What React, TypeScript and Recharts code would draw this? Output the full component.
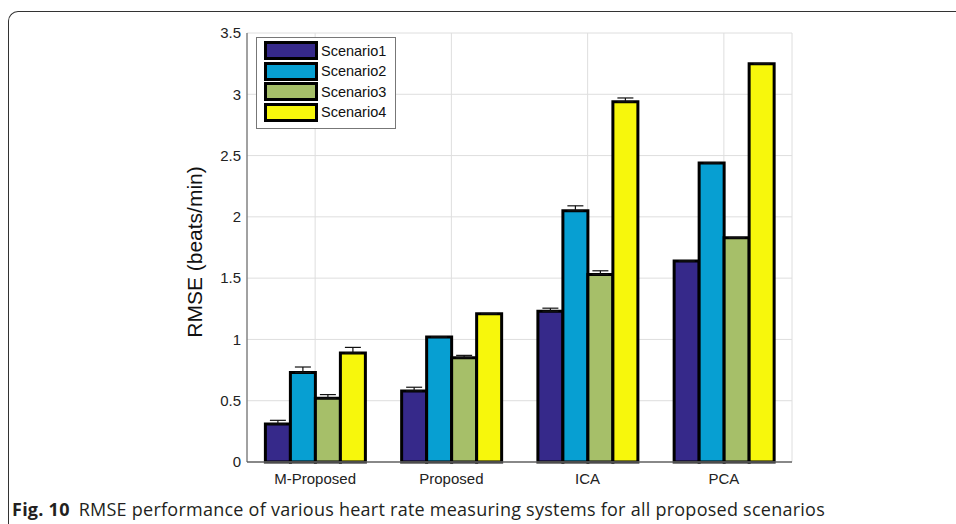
import React from 'react';
import { BarChart, Bar, XAxis, YAxis, CartesianGrid, Legend, ErrorBar } from 'recharts';

const categories = ['M-Proposed', 'Proposed', 'ICA', 'PCA'];
const scenario1 = [0.31, 0.58, 1.23, 1.64];
const scenario2 = [0.73, 1.02, 2.05, 2.44];
const scenario3 = [0.52, 0.85, 1.53, 1.83];
const scenario4 = [0.89, 1.21, 2.94, 3.25];
const error1 = [0.03, 0.03, 0.025, 0];
const error2 = [0.045, 0, 0.04, 0];
const error3 = [0.03, 0.02, 0.03, 0];
const error4 = [0.045, 0, 0.03, 0];
const yTicks = [0, 0.5, 1, 1.5, 2, 2.5, 3, 3.5];

const seriesNames = ['Scenario1', 'Scenario2', 'Scenario3', 'Scenario4'];
const colors = ['#36298a', '#079fd2', '#a6bf69', '#f7f70c'];

const data = categories.map((name, i) => ({
  name,
  s1: scenario1[i],
  s2: scenario2[i],
  s3: scenario3[i],
  s4: scenario4[i],
  e1: [0, error1[i]],
  e2: [0, error2[i]],
  e3: [0, error3[i]],
  e4: [0, error4[i]],
}));

const axisColor = '#555';
const font = 'Arial, "Liberation Sans", sans-serif';

const LegendBox = (props: any) => {
  const payload = props.payload || [];
  return (
    <div
      style={{
        border: '1px solid #777',
        background: '#fff',
        padding: '3px 0 6px 7px',
        fontFamily: font,
        fontSize: 14.5,
        color: '#111',
      }}
    >
      {payload.map((entry: any, i: number) => (
        <div key={`leg-${i}`} style={{ display: 'flex', alignItems: 'center', height: 19, marginBottom: i < payload.length - 1 ? 1.5 : 0 }}>
          <div style={{ width: 48, height: 13, border: '3px solid #000', background: entry.color }} />
          <span style={{ marginLeft: 3 }}>{entry.value}</span>
        </div>
      ))}
    </div>
  );
};

const blank = () => '';

export default function App() {
  const keys = ['s1', 's2', 's3', 's4'];
  const errKeys = ['e1', 'e2', 'e3', 'e4'];
  return (
    <div style={{ position: 'absolute', left: 0, top: 0, width: 956, height: 524, background: '#fff', overflow: 'hidden' }}>
      <div
        style={{
          position: 'absolute',
          left: 8,
          top: 11,
          width: 1100,
          height: 700,
          borderTop: '1.5px solid #333',
          borderLeft: '1.5px solid #333',
          borderTopLeftRadius: 10,
        }}
      />
      <div style={{ position: 'absolute', left: 0, top: 0 }}>
        <BarChart
          width={956}
          height={500}
          data={data}
          margin={{ top: 33, right: 164, bottom: 8, left: 187 }}
          barGap={0}
          barCategoryGap="13.5%"
        >
          <CartesianGrid xAxisId="x" yAxisId="y" stroke="#dedede" strokeWidth={1} />
          <XAxis
            xAxisId="x"
            dataKey="name"
            height={30}
            tickSize={0}
            tickMargin={11}
            axisLine={{ stroke: '#666', strokeWidth: 1.5 }}
            tick={{ fill: '#222', fontSize: 15, fontFamily: font }}
          />
          <XAxis
            xAxisId="top"
            dataKey="name"
            orientation="top"
            mirror
            height={0}
            tickSize={5}
            tickFormatter={blank}
            axisLine={{ stroke: axisColor }}
            tickLine={{ stroke: axisColor }}
          />
          <YAxis
            yAxisId="yin"
            mirror
            width={0}
            domain={[0, 3.5]}
            ticks={yTicks}
            tickSize={5}
            tickFormatter={blank}
            axisLine={false}
            tickLine={{ stroke: axisColor }}
          />
          <YAxis
            yAxisId="y"
            width={60}
            domain={[0, 3.5]}
            ticks={yTicks}
            tickSize={0}
            tickMargin={6}
            axisLine={{ stroke: axisColor }}
            tick={{ fill: '#222', fontSize: 15, fontFamily: font }}
          />
          <YAxis
            yAxisId="yr"
            orientation="right"
            mirror
            width={0}
            domain={[0, 3.5]}
            ticks={yTicks}
            tickSize={5}
            tickFormatter={blank}
            axisLine={{ stroke: axisColor }}
            tickLine={{ stroke: axisColor }}
          />
          <Legend
            layout="vertical"
            align="center"
            verticalAlign="middle"
            content={<LegendBox />}
            wrapperStyle={{ left: 256, top: 37, width: 140 }}
          />
          {keys.map((k, i) => (
            <Bar
              key={k}
              xAxisId="x"
              yAxisId="y"
              dataKey={k}
              name={seriesNames[i]}
              fill={colors[i]}
              stroke="#000"
              strokeWidth={3}
              isAnimationActive={false}
            >
              <ErrorBar dataKey={errKeys[i]} width={8} stroke="#111" strokeWidth={1.2} isAnimationActive={false} />
            </Bar>
          ))}
        </BarChart>
      </div>
      <div
        style={{
          position: 'absolute',
          left: 195,
          top: 252,
          transform: 'translate(-50%, -50%) rotate(-90deg)',
          whiteSpace: 'nowrap',
          fontFamily: font,
          fontSize: 21,
          color: '#111',
        }}
      >
        RMSE (beats/min)
      </div>
      <div
        style={{
          position: 'absolute',
          left: 12,
          top: 498,
          whiteSpace: 'nowrap',
          fontFamily: '"Open Sans", "Noto Sans", sans-serif',
          fontSize: 18,
          letterSpacing: 0.25,
          lineHeight: '22px',
          color: '#231f20',
        }}
      >
        <b>Fig. 10</b>
        <span style={{ marginLeft: 9 }}>RMSE performance of various heart rate measuring systems for all proposed scenarios</span>
      </div>
    </div>
  );
}
